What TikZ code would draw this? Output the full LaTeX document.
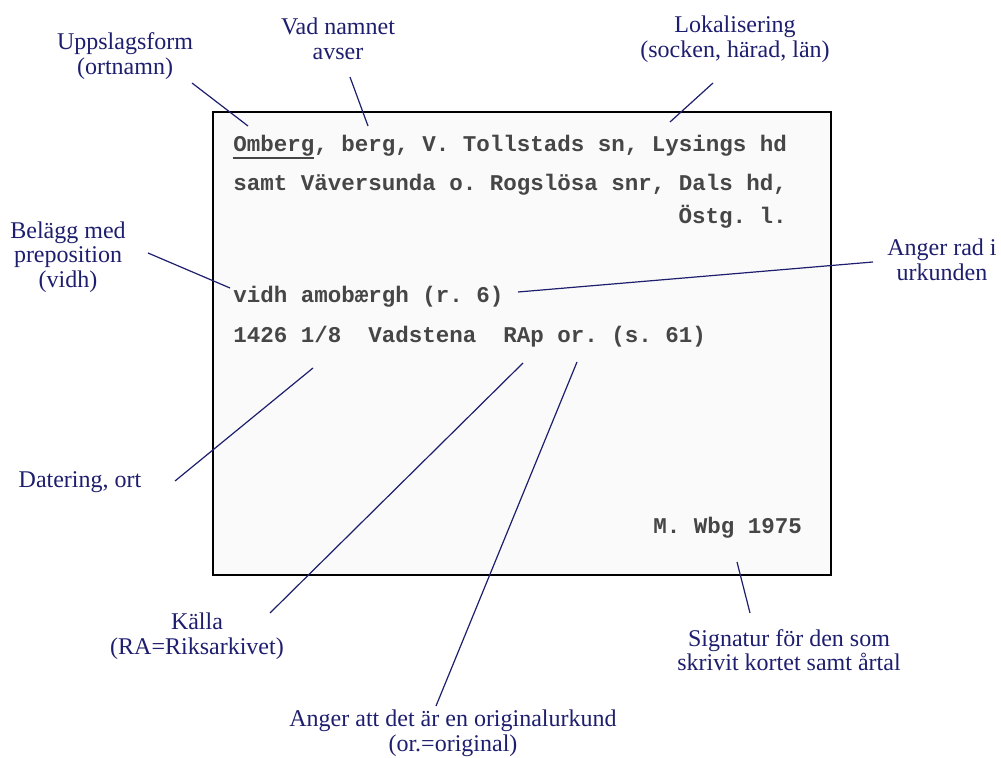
\documentclass[tikz,border=0pt]{standalone}
\usepackage{fontspec}
\setmainfont{Liberation Serif}
\setmonofont{Liberation Mono}
\usetikzlibrary{positioning}
\definecolor{ink}{RGB}{30,30,110}
\definecolor{typeink}{RGB}{70,70,70}
\newcommand\thickul[1]{\setbox0\hbox{#1}\rlap{\rule[-3.6pt]{\wd0}{1.3pt}}\box0}
\tikzset{%
  note/.style={color=ink,align=center,inner sep=0pt,font=\fontsize{12}{12.3}\selectfont},
  typed/.style={color=typeink,anchor=base west,inner sep=0pt,font=\ttfamily\bfseries\fontsize{11.25}{12}\selectfont},
  lead/.style={draw=ink,line width=.6pt},
  card/.style={draw=black,line width=1pt,fill=black!2}
}

\begin{document}
\begin{tikzpicture}[x=0.5pt,y=-0.5pt]
  \clip (0,0) rectangle (1001,758);
  \draw[card] (213,112) rectangle (831,575);

  \node[typed] (row1) at (233,152) {\thickul{Omberg}, berg, V. Tollstads sn, Lysings hd};
  \node[typed] (row2) at (233,191) {samt Väversunda o. Rogslösa snr, Dals hd,};
  \node[typed,anchor=base east] (row3) at (787,224) {Östg. l.};
  \node[typed] (row4) at (233,303) {vidh amobærgh (r. 6)};
  \node[typed] (row5) at (233,343) {1426 1/8\ \ Vadstena\ \ RAp or. (s. 61)};
  \node[typed] (sign) at (653,534) {M. Wbg 1975};

  \node[note] (upp) at (125,56) {Uppslagsform\\(ortnamn)};
  \node[note] (vad) at (338,39) {Vad namnet\\avser};
  \node[note] (lok) at (735,39) {Lokalisering\\(socken, härad, län)};
  \node[note] (bel) at (68,257) {Belägg med\\preposition\\(vidh)};
  \node[note] (rad) at (942,260) {Anger rad i\\urkunden};
  \node[note] (dat) at (80,482) {Datering, ort};
  \node[note] (kal) at (197,636) {Källa\\(RA=Riksarkivet)};
  \node[note] (sig) at (789,650) {Signatur för den som\\skrivit kortet samt årtal};
  \node[note] (org) at (453,733) {Anger att det är en originalurkund\\(or.=original)};

  \coordinate (upp-end) at (192,83);   \coordinate (upp-tip) at (248,126);
  \coordinate (vad-end) at (350,77);   \coordinate (vad-tip) at (368,126);
  \coordinate (lok-end) at (713,83);   \coordinate (lok-tip) at (670,122);
  \coordinate (bel-end) at (148,253);  \coordinate (bel-tip) at (230,288);
  \coordinate (rad-end) at (873,262);  \coordinate (rad-tip) at (518,292);
  \coordinate (dat-end) at (175,481);  \coordinate (dat-tip) at (313,368);
  \coordinate (kal-end) at (270,613);  \coordinate (kal-tip) at (523,363);
  \coordinate (org-end) at (436,706);  \coordinate (org-tip) at (577,362);
  \coordinate (sig-end) at (750,613);  \coordinate (sig-tip) at (737,562);

  \foreach \n in {upp,vad,lok,bel,rad,dat,kal,org,sig}
    \draw[lead] (\n-end) -- (\n-tip);
\end{tikzpicture}
\end{document}
